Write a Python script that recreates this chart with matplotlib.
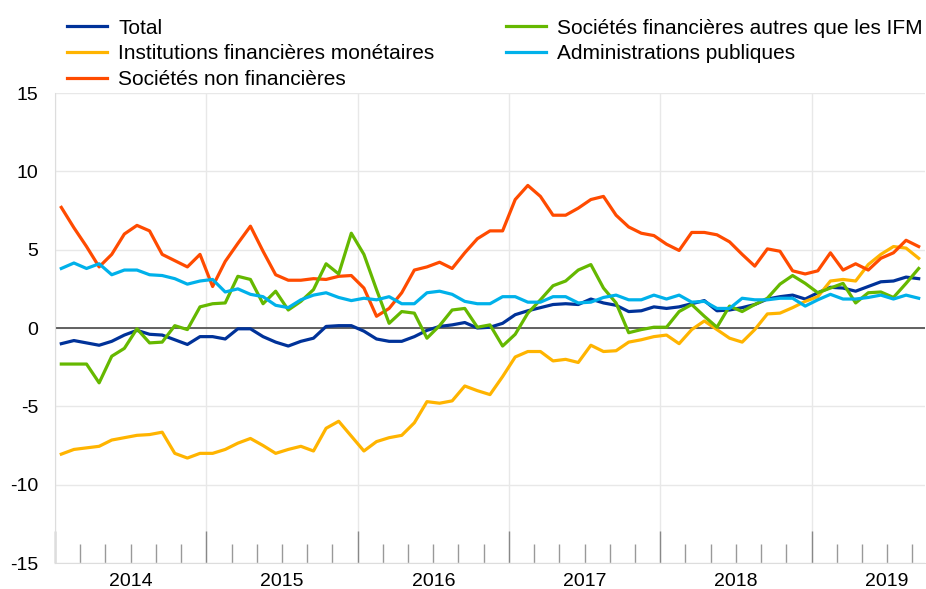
import numpy as np
import matplotlib
matplotlib.use("Agg")
import matplotlib.pyplot as plt
import matplotlib.transforms as mtransforms

plt.rcParams['font.family'] = ['Liberation Sans', 'DejaVu Sans']

# monthly data, Jan 2014 - Sep 2019 (annual growth rates, %)
years = ['2014', '2015', '2016', '2017', '2018', '2019']

total = [-1.0, -0.8, -0.95, -1.1, -0.85, -0.45, -0.15, -0.4, -0.45, -0.75, -1.05, -0.55,
         -0.55, -0.7, -0.05, -0.05, -0.55, -0.9, -1.15, -0.85, -0.65, 0.1, 0.15, 0.15,
         -0.2, -0.7, -0.85, -0.85, -0.55, -0.15, 0.1, 0.2, 0.35, 0.0, 0.05, 0.3,
         0.85, 1.1, 1.3, 1.5, 1.55, 1.5, 1.85, 1.6, 1.45, 1.05, 1.1, 1.35,
         1.25, 1.35, 1.55, 1.75, 1.1, 1.15, 1.3, 1.5, 1.85, 2.0, 2.1, 1.85,
         2.25, 2.6, 2.55, 2.35, 2.65, 2.95, 3.0, 3.25, 3.15]

ifm = [-8.05, -7.75, -7.65, -7.55, -7.15, -7.0, -6.85, -6.8, -6.65, -8.0, -8.3, -8.0,
       -8.0, -7.75, -7.35, -7.05, -7.5, -8.0, -7.75, -7.55, -7.85, -6.4, -5.95, -6.9,
       -7.85, -7.25, -7.0, -6.85, -6.05, -4.7, -4.8, -4.65, -3.7, -4.0, -4.25, -3.1,
       -1.85, -1.5, -1.5, -2.1, -2.0, -2.2, -1.1, -1.5, -1.45, -0.9, -0.75, -0.55,
       -0.45, -1.0, -0.1, 0.45, -0.1, -0.65, -0.9, -0.1, 0.9, 0.95, 1.3, 1.7,
       2.0, 3.0, 3.1, 3.0, 4.05, 4.7, 5.2, 5.1, 4.45]

snf = [7.7, 6.4, 5.2, 3.9, 4.7, 6.0, 6.55, 6.2, 4.7, 4.3, 3.9, 4.7,
       2.65, 4.25, 5.4, 6.5, 4.9, 3.4, 3.05, 3.05, 3.15, 3.1, 3.3, 3.35,
       2.55, 0.75, 1.25, 2.25, 3.7, 3.9, 4.2, 3.8, 4.8, 5.7, 6.2, 6.2,
       8.2, 9.1, 8.4, 7.2, 7.2, 7.65, 8.2, 8.4, 7.2, 6.45, 6.05, 5.9,
       5.35, 4.95, 6.1, 6.1, 5.95, 5.5, 4.7, 3.95, 5.05, 4.9, 3.65, 3.45,
       3.65, 4.8, 3.7, 4.1, 3.7, 4.45, 4.8, 5.6, 5.2]

sfai = [-2.3, -2.3, -2.3, -3.5, -1.8, -1.3, -0.05, -0.95, -0.9, 0.15, -0.1, 1.35,
        1.55, 1.6, 3.3, 3.1, 1.55, 2.35, 1.15, 1.7, 2.45, 4.1, 3.45, 6.05,
        4.7, 2.45, 0.3, 1.05, 0.95, -0.65, 0.15, 1.15, 1.25, 0.05, 0.2, -1.15,
        -0.4, 0.95, 1.8, 2.7, 3.0, 3.7, 4.05, 2.55, 1.6, -0.3, -0.1, 0.05,
        0.05, 1.05, 1.5, 0.75, 0.05, 1.4, 1.05, 1.5, 1.9, 2.8, 3.35, 2.85,
        2.25, 2.55, 2.85, 1.6, 2.25, 2.3, 1.95, 2.85, 3.8]

admin = [3.8, 4.15, 3.8, 4.1, 3.4, 3.7, 3.7, 3.4, 3.35, 3.15, 2.8, 3.0,
         3.1, 2.3, 2.5, 2.15, 2.0, 1.45, 1.3, 1.8, 2.1, 2.25, 1.95, 1.75,
         1.9, 1.8, 2.0, 1.55, 1.55, 2.25, 2.35, 2.15, 1.7, 1.55, 1.55, 2.0,
         2.0, 1.65, 1.65, 2.0, 2.0, 1.6, 1.65, 1.95, 2.1, 1.8, 1.8, 2.1,
         1.85, 2.1, 1.65, 1.7, 1.25, 1.25, 1.9, 1.8, 1.8, 1.9, 1.9, 1.4,
         1.8, 2.15, 1.85, 1.85, 1.95, 2.1, 1.85, 2.1, 1.9]

labels = ['Total', 'Institutions financières monétaires', 'Sociétés non financières',
          'Sociétés financières autres que les IFM', 'Administrations publiques']
colors = ['#003299', '#FFB400', '#FF4B00', '#65B800', '#00B1EA']

x = np.arange(len(total)) + 0.5  # mid-month positions, months since Jan 2014

fig = plt.figure(figsize=(9.26, 5.89), dpi=100)
ax = fig.add_axes([0.0594, 0.0441, 0.9395, 0.798])

for series, lab, col in zip([total, ifm, snf, sfai, admin], labels, colors):
    ax.plot(x, series, color=col, lw=2.3, label=lab, solid_joinstyle='round')

ax.axhline(0, color='#555555', lw=1.3, zorder=1)

ax.set_xlim(0, 69)
ax.set_ylim(-15, 15)
ax.set_yticks([-15, -10, -5, 0, 5, 10, 15])
ax.set_yticklabels(['-15', '-10', '-5', '0', '5', '10', '15'])

ax.set_xticks(np.arange(0, 69, 12))
ax.set_xticks([m for m in range(2, 69, 2) if m % 12 != 0], minor=True)
ax.tick_params(axis='x', which='major', direction='in', length=23, width=1,
               color='#888888', labelbottom=False)
ax.tick_params(axis='x', which='minor', direction='in', length=14, width=1,
               color='#999999')
ax.tick_params(axis='y', length=0, labelsize=14, pad=12)

trans = mtransforms.blended_transform_factory(ax.transData, ax.transAxes)
for k, yr in enumerate(years):
    ax.text(12 * k + 6, -0.022, yr, transform=trans, ha='center', va='top', fontsize=14)

ax.grid(axis='y', color='#e8e8e8', lw=1)
ax.grid(axis='x', which='major', color='#e8e8e8', lw=1)
ax.set_axisbelow(True)

for side in ['top', 'right']:
    ax.spines[side].set_visible(False)
ax.spines['left'].set_color('#dddddd')
ax.spines['bottom'].set_color('#dddddd')

handles, labs = ax.get_legend_handles_labels()
fig.legend(handles, labs, loc='upper left', bbox_to_anchor=(0.0566, 0.993), ncol=2,
           frameon=False, fontsize=15, handlelength=1.9, handletextpad=0.55,
           columnspacing=3.44, labelspacing=0.32, borderaxespad=0.3)

fig.savefig('out.png', dpi=100)
